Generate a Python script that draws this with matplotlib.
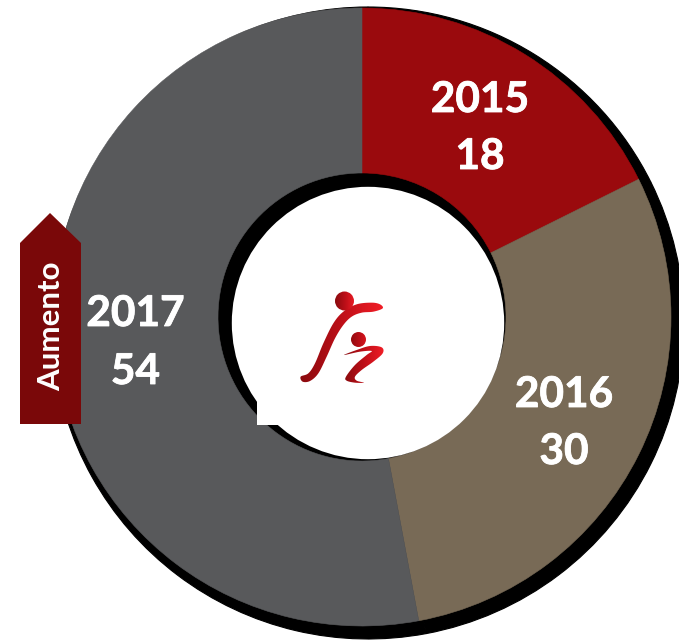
import numpy as np
import matplotlib
matplotlib.use("Agg")
import matplotlib.pyplot as plt
from matplotlib.path import Path
from matplotlib.patches import PathPatch, Polygon, Rectangle, Circle
from matplotlib.colors import LinearSegmentedColormap
import matplotlib.patheffects as pe

years = ["2015", "2016", "2017"]
values = [18, 30, 54]
colors = ["#9A0A0D", "#786A56", "#58595B"]
year_pos = [(480, 112), (564, 407), (135.5, 326)]
value_pos = [(480, 169), (564, 464), (135.5, 384)]
W, H = 679, 641


def Y(py):
    return H - py


fig = plt.figure(figsize=(W / 100, H / 100), dpi=100)
ax = fig.add_axes([0, 0, 1, 1])

# shadow ring
ax.pie(values, colors=["black"] * 3, startangle=90, counterclock=False,
       center=(368, Y(323)), radius=316, frame=True,
       wedgeprops=dict(width=316 - 120, linewidth=0.8, edgecolor="black"))
# main ring
wedges, _ = ax.pie(values, colors=colors, startangle=90, counterclock=False,
                   center=(362, Y(317)), radius=309, frame=True,
                   wedgeprops=dict(width=309 - 144, linewidth=0))
for w in wedges:
    w.set_edgecolor(w.get_facecolor())
    w.set_linewidth(0.4)
# white centre
ax.add_patch(Circle((368, Y(323)), 136.2, fc="white", ec="none", zorder=3))
ax.add_patch(Rectangle((257, Y(425)), 24, 25, fc="white", ec="none", zorder=3))

stroke = [pe.withStroke(linewidth=0.6, foreground="white")]
for (x, py), (x2, py2), yr, v in zip(year_pos, value_pos, years, values):
    ax.text(x, Y(py), yr, color="white", family="Lato", weight="bold", fontsize=30.5,
            ha="center", va="baseline", zorder=5, path_effects=stroke)
    ax.text(x2, Y(py2), str(v), color="white", family="Lato", weight="bold", fontsize=30.5,
            ha="center", va="baseline", zorder=5, path_effects=stroke)

# "Aumento" arrow
ax.add_patch(Polygon([(20, Y(424)), (20, Y(243)), (50, Y(213)), (81, Y(243)), (81, Y(424))],
                     closed=True, fc="#7A0809", ec="none", zorder=4))
ax.text(51, Y(326.5), "Aumento", color="white", family="Lato", weight="bold", fontsize=22.5,
        rotation=90, ha="center", va="center", zorder=5)

# logo
cmap = LinearSegmentedColormap.from_list("logo", ["#8A0A0E", "#BE0F18", "#F01D26"])
grad = np.linspace(0, 1, 64).reshape(1, -1)


def smooth(points, n=12):
    """Closed Catmull-Rom outline, from zoomed-crop coordinates to figure pixels."""
    p = np.array(points, float)
    p = np.column_stack([280 + p[:, 0] / 3, H - (270 + p[:, 1] / 3)])
    out = []
    m = len(p)
    for i in range(m):
        p0, p1, p2, p3 = p[i - 1], p[i], p[(i + 1) % m], p[(i + 2) % m]
        for t in np.linspace(0, 1, n, endpoint=False):
            out.append(0.5 * (2 * p1 + (p2 - p0) * t + (2 * p0 - 5 * p1 + 4 * p2 - p3) * t ** 2
                              + (3 * p1 - p0 - 3 * p2 + p3) * t ** 3))
    out = np.array(out)
    return Path(np.vstack([out, out[0]]), closed=True)


def shaded(patch, x0, x1, y0, y1, cm=cmap):
    patch.set(fc="none", ec="none", transform=ax.transData)
    ax.add_patch(patch)
    im = ax.imshow(grad, cmap=cm, extent=(x0, x1, Y(y1), Y(y0)), aspect="auto", zorder=6)
    im.set_clip_path(patch)


swoosh1 = smooth([(62, 320), (85, 310), (105, 280), (130, 220), (160, 160), (190, 125), (230, 103),
                  (275, 98), (300, 103), (308, 115), (280, 125), (245, 128), (215, 140), (190, 165),
                  (165, 205), (140, 260), (115, 310), (90, 333), (68, 335)])
swoosh2 = smooth([(192, 255), (230, 240), (270, 228), (305, 232), (308, 250), (280, 275), (245, 300),
                  (225, 320), (230, 332), (252, 338), (225, 338), (200, 332), (198, 320), (225, 285),
                  (260, 255), (275, 243), (240, 245)])
shaded(PathPatch(swoosh1), 300, 383, 295, 385)
shaded(PathPatch(swoosh2), 344, 384, 340, 385)
shaded(Circle((344.5, Y(301)), 9.5), 335, 356, 290, 312)
shaded(Circle((358.5, Y(339.5)), 7.5), 349, 372, 330, 349)

ax.set_xlim(0, W)
ax.set_ylim(0, H)
ax.set_aspect("auto")
ax.axis("off")
fig.savefig("out.png", dpi=100, facecolor="white")
